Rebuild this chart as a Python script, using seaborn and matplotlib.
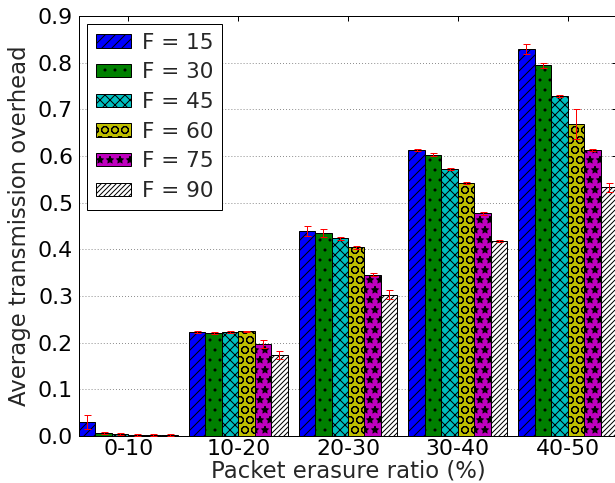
import numpy as np
import pandas as pd
import matplotlib
matplotlib.use("Agg")
import matplotlib.pyplot as plt
from matplotlib.patches import Patch
from matplotlib.ticker import FormatStrFormatter
import seaborn as sns

# Packet erasure ranges (x categories) and frame sizes (hue levels)
ranges = ["0-10", "10-20", "20-30", "30-40", "40-50"]
frames = ["F = 15", "F = 30", "F = 45", "F = 60", "F = 75", "F = 90"]

# Average transmission overhead per frame size, one value per erasure range
overhead_f15 = [0.031, 0.223, 0.439, 0.613, 0.829]
overhead_f30 = [0.007, 0.221, 0.435, 0.603, 0.794]
overhead_f45 = [0.005, 0.223, 0.424, 0.572, 0.728]
overhead_f60 = [0.003, 0.224, 0.404, 0.543, 0.668]
overhead_f75 = [0.003, 0.197, 0.346, 0.477, 0.613]
overhead_f90 = [0.003, 0.173, 0.303, 0.417, 0.533]

# Half-widths of the error bars
err_f15 = [0.015, 0.002, 0.010, 0.002, 0.010]
err_f30 = [0.002, 0.002, 0.008, 0.003, 0.005]
err_f45 = [0.002, 0.002, 0.003, 0.002, 0.002]
err_f60 = [0.002, 0.002, 0.003, 0.002, 0.032]
err_f75 = [0.002, 0.008, 0.003, 0.003, 0.003]
err_f90 = [0.002, 0.009, 0.010, 0.002, 0.010]

values = [overhead_f15, overhead_f30, overhead_f45, overhead_f60, overhead_f75, overhead_f90]
errors = [err_f15, err_f30, err_f45, err_f60, err_f75, err_f90]

colors = ["#0000ff", "#008000", "#00bfbf", "#bfbf00", "#bf00bf", "#ffffff"]
hatches = ["//", ".", "xx", "O", "*", "////"]

rows = []
for f, vals in zip(frames, values):
    for r, v in zip(ranges, vals):
        rows.append({"range": r, "frame": f, "overhead": v})
df = pd.DataFrame(rows)

DPI = 60
PX = 72.0 / DPI  # points per pixel

sns.set_style("white")
plt.rcParams.update({
    "font.family": ["DejaVu Sans"],
    "hatch.linewidth": 1.0 * PX,
    "hatch.color": "black",
    "xtick.direction": "in",
    "ytick.direction": "in",
    "xtick.top": True,
    "ytick.right": True,
    "xtick.major.size": 5 * PX,
    "ytick.major.size": 5 * PX,
    "xtick.major.width": 1.0 * PX,
    "ytick.major.width": 1.0 * PX,
    "xtick.color": "black",
    "ytick.color": "black",
    "axes.edgecolor": "black",
    "axes.linewidth": 1.0 * PX,
})

fig = plt.figure(figsize=(615 / DPI, 483 / DPI), dpi=DPI)
ax = fig.add_axes([79 / 615, 47 / 483, 538 / 615, 420 / 483])

sns.barplot(data=df, x="range", y="overhead", hue="frame", order=ranges,
            hue_order=frames, palette=colors, width=0.9, saturation=1,
            edgecolor="black", linewidth=1.0 * PX, legend=False, ax=ax)

# Apply hatches and error bars per hue level
n = len(ranges)
bars = list(ax.patches)
for k, (h, vals, errs) in enumerate(zip(hatches, values, errors)):
    xs = []
    for p in bars[k * n:(k + 1) * n]:
        p.set_hatch(h)
        xs.append(p.get_x() + p.get_width() / 2)
    ax.errorbar(xs, vals, yerr=errs, fmt="none", ecolor="red",
                elinewidth=1.0 * PX, capsize=3.5 * PX, capthick=1.0 * PX,
                zorder=5)

TICK_FS = 22 * PX
LABEL_FS = 22.8 * PX
LEG_FS = 21.5 * PX

ax.set_xlim(-0.45, 4.45)
ax.set_ylim(0, 0.9)
ax.set_yticks(np.arange(0, 0.91, 0.1))
ax.yaxis.set_major_formatter(FormatStrFormatter("%.1f"))
ax.set_axisbelow(True)
ax.yaxis.grid(True, color="#555555", linewidth=0.8 * PX,
              linestyle=(0, (1.0, 2.8)))
ax.xaxis.grid(False)
ax.tick_params(axis="x", labelsize=TICK_FS, pad=3 * PX)
ax.tick_params(axis="y", labelsize=TICK_FS, pad=6 * PX)

ax.set_xlabel("Packet erasure ratio (%)", fontsize=LABEL_FS, labelpad=0)
ax.set_ylabel("Average transmission overhead", fontsize=LABEL_FS,
              labelpad=7 * PX)

handles = [Patch(facecolor=c, edgecolor="black", hatch=h, linewidth=1.0 * PX)
           for c, h in zip(colors, hatches)]
leg = ax.legend(handles, frames, loc="upper left", fontsize=LEG_FS,
                fancybox=False, shadow=False, framealpha=1,
                edgecolor="black", handlelength=1.67, handleheight=0.57,
                labelspacing=0.45, borderpad=0.4, handletextpad=0.5,
                borderaxespad=0.37)
leg.get_frame().set_linewidth(1.0 * PX)

fig.savefig("out.png", dpi=DPI)
